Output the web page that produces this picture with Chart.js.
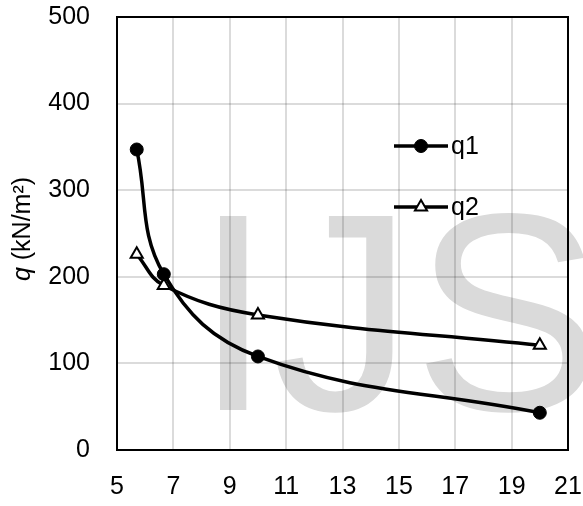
<!DOCTYPE html>
<html>
<head>
<meta charset="utf-8">
<script src="https://cdn.jsdelivr.net/npm/chart.js@4"></script>
<style>
  html, body { margin: 0; padding: 0; background: #fff; }
  #wrap { width: 583px; height: 506px; }
</style>
</head>
<body>
<div id="wrap"><canvas id="qChart"></canvas></div>
<script>
// data
var xVals = [5.7, 6.66, 10, 20];
var q1 = [347, 203, 108, 43];
var q2 = [226, 190, 156, 121];
var seriesNames = ['q1', 'q2'];
var xTicks = [5, 7, 9, 11, 13, 15, 17, 19, 21];
var yTicks = [0, 100, 200, 300, 400, 500];

var FONT = '"Liberation Sans", Arial, sans-serif';

function toPoints(xs, ys) {
  return xs.map(function (x, i) { return { x: x, y: ys[i] }; });
}

// no extra label padding, the layout padding does that
function noPad(axis) {
  axis.paddingTop = 0;
  axis.paddingBottom = 0;
  axis.paddingLeft = 0;
  axis.paddingRight = 0;
}

// grey watermark, under the grid lines
var watermark = {
  id: 'watermark',
  beforeDraw: function (chart) {
    var ctx = chart.ctx;
    ctx.save();
    ctx.fillStyle = '#dadada';
    ctx.font = '282px ' + FONT;
    ctx.textBaseline = 'alphabetic';
    ctx.textAlign = 'left';
    ctx.fillText('IJS', 194, 410);
    ctx.restore();
  }
};

// frame, y title with italic q, and in-plot legend
var extras = {
  id: 'extras',
  afterDraw: function (chart) {
    var ctx = chart.ctx;
    var a = chart.chartArea;
    ctx.save();
    ctx.strokeStyle = '#000';
    ctx.lineWidth = 2;
    ctx.strokeRect(a.left, a.top, a.right - a.left, a.bottom - a.top);

    // y axis title
    ctx.translate(23, 229);
    ctx.rotate(-Math.PI / 2);
    ctx.fillStyle = '#000';
    ctx.textBaseline = 'middle';
    var partA = 'q', partB = ' (kN/m²)';
    ctx.font = 'italic 25px ' + FONT;
    var wA = ctx.measureText(partA).width;
    ctx.font = '25px ' + FONT;
    var wB = ctx.measureText(partB).width;
    var start = -(wA + wB) / 2;
    ctx.font = 'italic 25px ' + FONT;
    ctx.textAlign = 'left';
    ctx.fillText(partA, start, 0);
    ctx.font = '25px ' + FONT;
    ctx.fillText(partB, start + wA, 0);
    ctx.restore();

    // legend
    var rows = [146, 207];
    chart.data.datasets.forEach(function (ds, i) {
      var y = rows[i];
      ctx.save();
      ctx.strokeStyle = ds.borderColor;
      ctx.lineWidth = ds.borderWidth;
      ctx.beginPath();
      ctx.moveTo(394, y);
      ctx.lineTo(448, y);
      ctx.stroke();
      ctx.fillStyle = ds.pointBackgroundColor;
      ctx.strokeStyle = ds.pointBorderColor;
      ctx.lineWidth = ds.pointBorderWidth;
      Chart.helpers.drawPoint(ctx, {
        pointStyle: ds.pointStyle,
        radius: ds.pointRadius,
        borderWidth: ds.pointBorderWidth,
        rotation: 0
      }, 421, y);
      ctx.fillStyle = '#000';
      ctx.font = '25px ' + FONT;
      ctx.textBaseline = 'middle';
      ctx.textAlign = 'left';
      ctx.fillText(ds.label, 451, y + 1);
      ctx.restore();
    });
  }
};

var gridCol = 'rgba(0,0,0,0.14)';

var ctx = document.getElementById('qChart').getContext('2d');
var myChart = new Chart(ctx, {
  type: 'line',
  data: {
    datasets: [{
      label: seriesNames[0],
      data: toPoints(xVals, q1),
      borderColor: '#000',
      borderWidth: 3.5,
      pointStyle: 'circle',
      pointRadius: 6.5,
      pointBackgroundColor: '#000',
      pointBorderColor: '#000',
      pointBorderWidth: 1,
      tension: 0.4,
      fill: false
    }, {
      label: seriesNames[1],
      data: toPoints(xVals, q2),
      borderColor: '#000',
      borderWidth: 3.5,
      pointStyle: 'triangle',
      pointRadius: 7,
      pointBackgroundColor: '#fff',
      pointBorderColor: '#000',
      pointBorderWidth: 2,
      tension: 0.4,
      fill: false
    }]
  },
  options: {
    responsive: true,
    maintainAspectRatio: false,
    animation: false,
    layout: { autoPadding: false, padding: { left: 48, right: 15, top: 17, bottom: 0 } },
    plugins: {
      legend: { display: false },
      tooltip: { enabled: false }
    },
    scales: {
      x: {
        type: 'linear',
        min: xTicks[0],
        max: xTicks[xTicks.length - 1],
        afterBuildTicks: function (axis) {
          axis.ticks = xTicks.map(function (v) { return { value: v }; });
        },
        afterFit: function (axis) { axis.height = 56; noPad(axis); },
        grid: { color: gridCol, lineWidth: 2, drawTicks: false },
        border: { display: false },
        ticks: { color: '#000', font: { family: FONT, size: 25 }, padding: 22, maxRotation: 0 }
      },
      y: {
        min: yTicks[0],
        max: yTicks[yTicks.length - 1],
        afterBuildTicks: function (axis) {
          axis.ticks = yTicks.map(function (v) { return { value: v }; });
        },
        afterFit: function (axis) { axis.width = 69; noPad(axis); },
        grid: { color: gridCol, lineWidth: 2, drawTicks: false },
        border: { display: false },
        ticks: { color: '#000', font: { family: FONT, size: 25 }, padding: 27 }
      }
    }
  },
  plugins: [watermark, extras]
});
</script>
</body>
</html>
